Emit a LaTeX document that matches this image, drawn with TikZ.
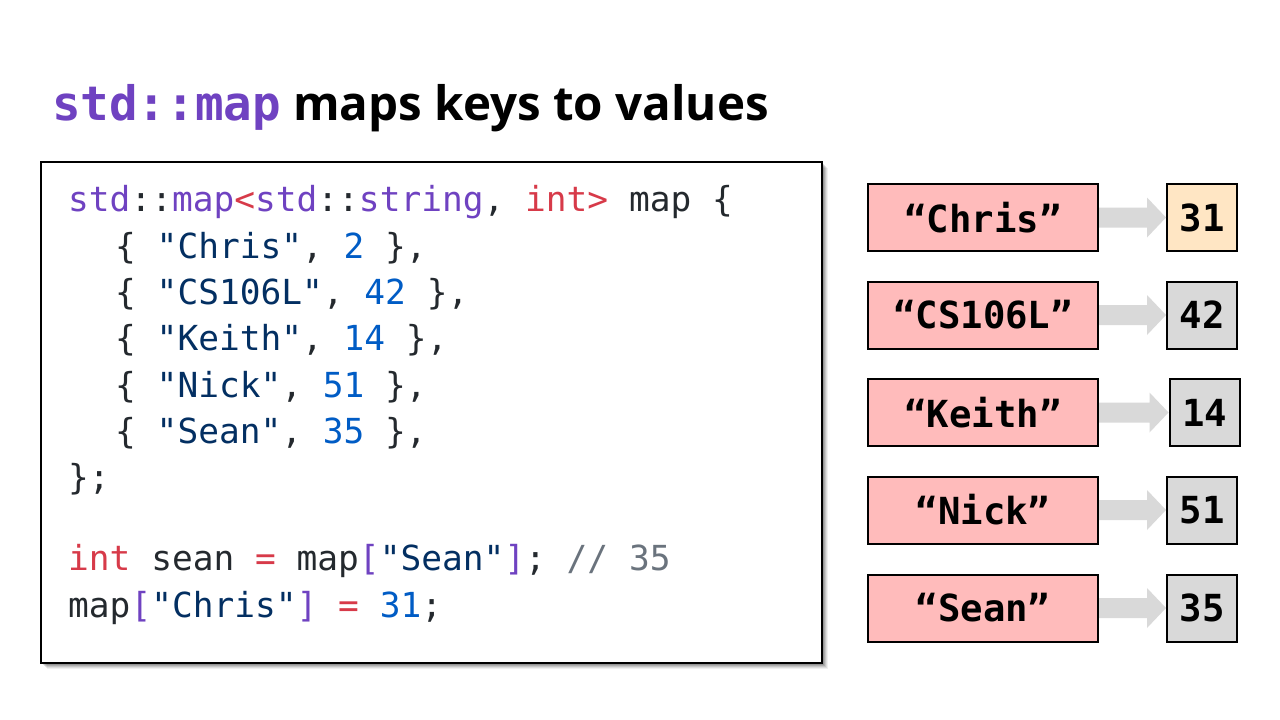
\documentclass[tikz,border=0pt]{standalone}
\usepackage{fontspec}
\setmainfont{Open Sans}
\newfontfamily\titlefont{Open Sans Bold}
\newfontfamily\codefont{DejaVu Sans Mono}
\newfontfamily\codeboldfont{DejaVu Sans Mono Bold}
\usetikzlibrary{calc}

\definecolor{cpurple}{HTML}{6F42C1}
\definecolor{cred}{HTML}{D73A49}
\definecolor{cstr}{HTML}{032F62}
\definecolor{cnum}{HTML}{005CC5}
\definecolor{ctext}{HTML}{24292E}
\definecolor{ccomment}{HTML}{6A737D}
\definecolor{keyfill}{HTML}{FFBBBB}
\definecolor{valfill}{HTML}{D9D9D9}
\definecolor{hotfill}{HTML}{FFE6C4}
\definecolor{arrowfill}{HTML}{D9D9D9}

\newcommand\kwP[1]{\textcolor{cpurple}{#1}}
\newcommand\kwR[1]{\textcolor{cred}{#1}}
\newcommand\kwS[1]{\textcolor{cstr}{#1}}
\newcommand\kwN[1]{\textcolor{cnum}{#1}}
\newcommand\kwC[1]{\textcolor{ccomment}{#1}}

% draws a broad grey arrow from a key box to its value box
\newcommand\keyarrow[2]{%
  \fill[arrowfill] ($(#1.east)+(0,-10)$) -- ($(#2.west)+(-19,-10)$)
    -- ($(#2.west)+(-19,-20)$) -- (#2.west) -- ($(#2.west)+(-19,20)$)
    -- ($(#2.west)+(-19,10)$) -- ($(#1.east)+(0,10)$) -- cycle;}

\begin{document}
\begin{tikzpicture}[x=1pt,y=-1pt,
  codeline/.style={anchor=base west, inner sep=0pt, text=ctext,
    font=\codefont\fontsize{34.5}{40}\selectfont},
  keybox/.style={draw=black, line width=2pt, fill=keyfill,
    minimum width=230pt, minimum height=67pt, inner sep=0pt,
    font=\codeboldfont\fontsize{37.3}{40}\selectfont},
  valbox/.style={draw=black, line width=2pt, fill=valfill,
    minimum width=70pt, minimum height=67pt, inner sep=0pt,
    font=\codeboldfont\fontsize{37.3}{40}\selectfont}]

\useasboundingbox[fill=white] (0,0) rectangle (1280,720);

% title
\node[anchor=base west, inner sep=0pt] (title) at (52,120)
  {\fontsize{47.5}{52}\selectfont{\codeboldfont\textcolor{cpurple}{std::map}}
   \titlefont maps keys to values};

% code panel with a soft shadow
\foreach \o/\a in {6/0.06,5/0.08,4/0.10,3/0.12,2/0.14}
  \fill[black, opacity=\a] (41+\o,162+\o) rectangle (822+\o,663+\o);
\node[draw=black, line width=2pt, fill=white, inner sep=0pt,
  minimum width=781pt, minimum height=501pt] (panel) at (431.5,412.5) {};

\node[codeline] (l1) at (68,211)
  {\kwP{std}::\kwP{map}\kwR{<}\kwP{std}::\kwP{string}, \kwR{int>} map \{};
\node[codeline] (l2) at (115,258) {\{ \kwS{"Chris"}, \kwN{2} \},};
\node[codeline] (l3) at (115,304) {\{ \kwS{"CS106L"}, \kwN{42} \},};
\node[codeline] (l4) at (115,350) {\{ \kwS{"Keith"}, \kwN{14} \},};
\node[codeline] (l5) at (115,397) {\{ \kwS{"Nick"}, \kwN{51} \},};
\node[codeline] (l6) at (115,443) {\{ \kwS{"Sean"}, \kwN{35} \},};
\node[codeline] (l7) at (68,489) {\};};
\node[codeline] (l8) at (68,570)
  {\kwR{int} sean \kwR{=} map\kwP{[}\kwS{"Sean"}\kwP{]}; \kwC{// 35}};
\node[codeline] (l9) at (68,617)
  {map\kwP{[}\kwS{"Chris"}\kwP{]} \kwR{=} \kwN{31};};

% key and value boxes
\node[keybox] (k1) at (983,217.5) {“Chris”};
\node[keybox] (k2) at (983,315)   {“CS106L”};
\node[keybox] (k3) at (983,412.5) {“Keith”};
\node[keybox] (k4) at (983,510)   {“Nick”};
\node[keybox] (k5) at (983,608)   {“Sean”};

\node[valbox, fill=hotfill] (v1) at (1202,217.5) {31};
\node[valbox] (v2) at (1202,315)   {42};
\node[valbox] (v3) at (1204.5,412.5) {14};
\node[valbox] (v4) at (1202,510)   {51};
\node[valbox] (v5) at (1202,608)   {35};

\keyarrow{k1}{v1}
\keyarrow{k2}{v2}
\keyarrow{k3}{v3}
\keyarrow{k4}{v4}
\keyarrow{k5}{v5}
\end{tikzpicture}
\end{document}
